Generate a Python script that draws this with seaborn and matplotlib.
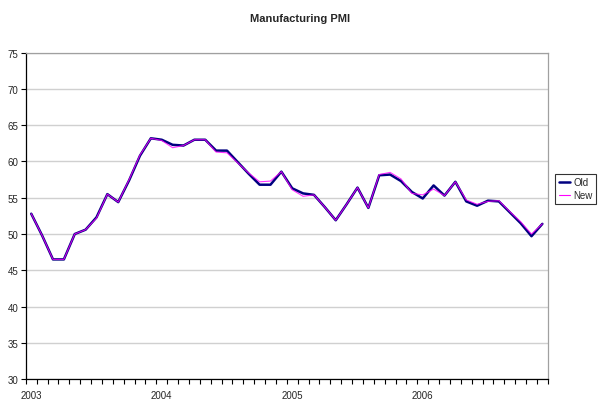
import matplotlib
matplotlib.use("Agg")
import matplotlib.pyplot as plt
import seaborn as sns
import pandas as pd
import numpy as np
from matplotlib.lines import Line2D

sns.set_style("white")
plt.rcParams['font.family'] = ['Liberation Sans', 'DejaVu Sans']

months = list(range(48))
year_labels = ["2003", "2004", "2005", "2006"]
old_values = [52.8, 49.8, 46.5, 46.5, 50.0, 50.6, 52.3, 55.5, 54.4, 57.4, 60.8, 63.2,
              63.0, 62.3, 62.2, 63.0, 63.0, 61.5, 61.5, 59.9, 58.3, 56.8, 56.8, 58.6,
              56.3, 55.6, 55.4, 53.7, 51.9, 54.1, 56.4, 53.6, 58.1, 58.2, 57.3, 55.8,
              54.9, 56.7, 55.3, 57.2, 54.5, 53.9, 54.6, 54.5, 53.0, 51.5, 49.7, 51.4]
new_values = [52.8, 49.8, 46.5, 46.5, 50.0, 50.6, 52.2, 55.5, 54.4, 57.5, 60.9, 63.2,
              62.9, 61.9, 62.2, 63.0, 63.0, 61.3, 61.2, 59.8, 58.4, 57.2, 57.3, 58.6,
              56.1, 55.2, 55.4, 53.7, 51.9, 54.1, 56.4, 53.6, 58.2, 58.5, 57.6, 55.6,
              55.4, 56.2, 55.3, 57.2, 54.7, 54.1, 54.5, 54.6, 53.1, 51.7, 50.0, 51.4]

df = pd.DataFrame({
    "month": months * 2,
    "value": old_values + new_values,
    "series": ["Old"] * 48 + ["New"] * 48,
})

fig = plt.figure(figsize=(6.0, 4.1), dpi=100)
ax = fig.add_axes([0.043, 0.073, 0.870, 0.796])

sns.lineplot(data=df, x="month", y="value", hue="series", size="series",
             palette={"Old": "#000080", "New": "#FF00FF"},
             sizes={"Old": 1.8, "New": 0.8}, ax=ax, legend=False)
ax.lines[1].set_alpha(0.8)

ax.set_xlim(-0.5, 47.5)
ax.set_ylim(30, 75)
ax.set_yticks(np.arange(30, 76, 5))
ax.yaxis.grid(True, color="#d0d0d0", linewidth=1)
ax.set_axisbelow(True)

ax.set_xticks([0, 12, 24, 36])
ax.set_xticklabels(year_labels)
ax.set_xticks(np.arange(-0.5, 48, 1), minor=True)
ax.tick_params(axis="x", which="major", bottom=True, length=0, pad=8, labelsize=7)
ax.tick_params(axis="x", which="minor", bottom=True, length=3.5, width=0.8,
               color="black", direction="out")
ax.tick_params(axis="y", left=True, length=3.5, width=0.8, color="black",
               labelsize=7, pad=2, direction="out")
ax.set_xlabel("")
ax.set_ylabel("")

for s in ["left", "bottom"]:
    ax.spines[s].set_color("black")
    ax.spines[s].set_linewidth(0.9)
for s in ["top", "right"]:
    ax.spines[s].set_color("#a0a0a0")
    ax.spines[s].set_linewidth(0.9)
    ax.spines[s].set_visible(True)

fig.suptitle("Manufacturing PMI", y=0.965, fontsize=8, fontweight="bold")

handles = [Line2D([0], [0], color="#000080", lw=1.8),
           Line2D([0], [0], color="#FF00FF", lw=0.8)]
leg = fig.legend(handles, ["Old", "New"], loc="center left",
                 bbox_to_anchor=(0.922, 0.537), fontsize=7, frameon=True,
                 fancybox=False, edgecolor="black", handlelength=1.2,
                 handletextpad=0.3, borderpad=0.35, labelspacing=0.3,
                 borderaxespad=0.2)
leg.get_frame().set_linewidth(0.8)

fig.savefig("out.png", dpi=100)
